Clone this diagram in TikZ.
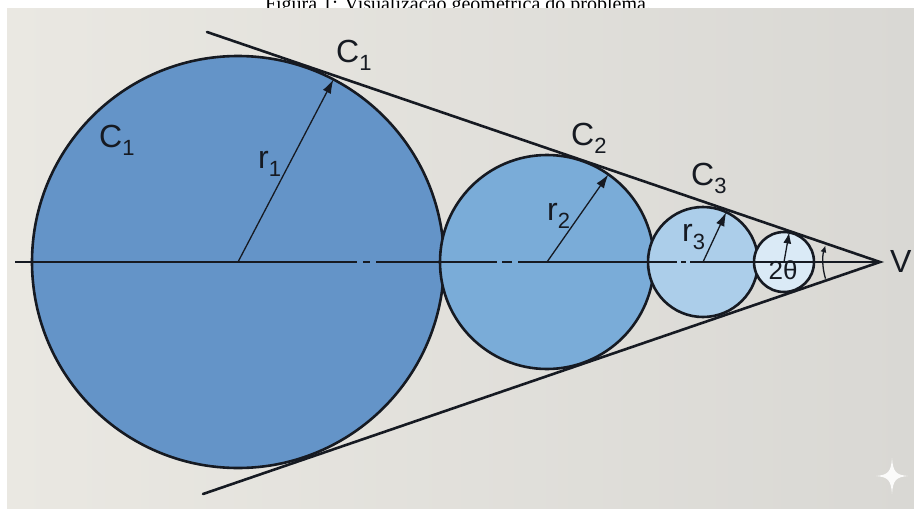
\documentclass[tikz,border=0pt]{standalone}
\usepackage{fontspec}
\setmainfont{Liberation Sans}
\newfontfamily\capfont{Liberation Serif}
\usetikzlibrary{arrows.meta,calc}
\definecolor{bgL}{RGB}{234,232,226}
\definecolor{bgR}{RGB}{217,216,212}
\definecolor{cA}{RGB}{100,148,200}
\definecolor{cB}{RGB}{122,172,216}
\definecolor{cC}{RGB}{172,206,234}
\definecolor{cD}{RGB}{218,234,246}
\definecolor{ink}{RGB}{22,26,34}
\newcommand\lbl[2]{#1\raisebox{-8pt}{\fontsize{22}{22}\selectfont #2}}
\begin{document}
\begin{tikzpicture}[x=1pt,y=-1pt,
 circ/.style={draw=ink,line width=2.6pt},
 tang/.style={draw=ink,line width=2.6pt,line cap=round},
 rarrow/.style={draw=ink,line width=1.3pt,-{Latex[length=14pt,width=9pt]}},
 lab/.style={anchor=base west,inner sep=0pt,text=ink,font=\fontsize{32}{36}\selectfont},
]
\useasboundingbox (0,0) rectangle (914,509);
\fill[white] (0,0) rectangle (914,509);
\node[font=\capfont\fontsize{20}{24}\selectfont, anchor=base, inner sep=0pt] (cap) at (458,10) {Figura 1: Visualização geométrica do problema.};
\shade[left color=bgL, right color=bgR] (7,8) rectangle (914,509);

% geometry
\coordinate (V) at (880,262);
\coordinate (A0) at (15,262);
\coordinate (T1) at (207,32);
\coordinate (B1) at (203,494);
\coordinate (O1) at (238,262);
\coordinate (O2) at (547,262);
\coordinate (O3) at (703,262);
\coordinate (O4) at (784,262);
\coordinate (P1) at ($(O1)+(-62.4:206)$);
\coordinate (P2) at ($(O2)+(-55:107)$);
\coordinate (P3) at ($(O3)+(-65:55)$);
\coordinate (P4) at ($(O4)+(-80:30)$);

% circles
\path[circ,fill=cA] (O1) circle[radius=206];
\path[circ,fill=cB] (O2) circle[radius=107];
\path[circ,fill=cC] (O3) circle[radius=55];
\path[circ,fill=cD] (O4) circle[radius=30];

% axis
\draw[ink,line width=1.6pt,dash pattern=on 342pt off 6pt on 7pt off 6pt on 121pt off 5pt on 10pt off 6pt on 159pt off 4pt on 5pt off 4pt on 400pt] (A0) -- (V);

% tangents
\draw[tang] (T1) -- (V) -- (B1);

% radii
\draw[rarrow] (O1) -- (P1);
\draw[rarrow] (O2) -- (P2);
\draw[rarrow] (O3) -- (P3);
\draw[rarrow,-{Latex[length=11pt,width=8pt]}] (O4) -- (P4);

% angle arc
\draw[ink,line width=1.3pt,-{Latex[length=7pt,width=6pt]}] ($(V)+(163:57)$) arc[start angle=163,end angle=197,radius=57];

% labels
\node[lab] (lc1t) at (336,62) {\lbl{C}{1}};
\node[lab] (lc1i) at (99,147) {\lbl{C}{1}};
\node[lab] (lr1) at (258,168) {\lbl{r}{1}};
\node[lab] (lc2) at (571,145) {\lbl{C}{2}};
\node[lab] (lr2) at (547,220) {\lbl{r}{2}};
\node[lab] (lc3) at (691,185) {\lbl{C}{3}};
\node[lab] (lr3) at (682,241) {\lbl{r}{3}};
\node[lab] (lv) at (890,272) {V};
\node[anchor=base,inner sep=0pt,text=ink,font=\fontsize{26}{30}\selectfont] (lth) at (783,279) {2θ};

% sparkle
\fill[white,opacity=0.9] (892,458) .. controls (893,472) and (896,475) .. (908,476) .. controls (896,477) and (893,480) .. (892,494) .. controls (891,480) and (888,477) .. (876,476) .. controls (888,475) and (891,472) .. (892,458) -- cycle;
\end{tikzpicture}
\end{document}
